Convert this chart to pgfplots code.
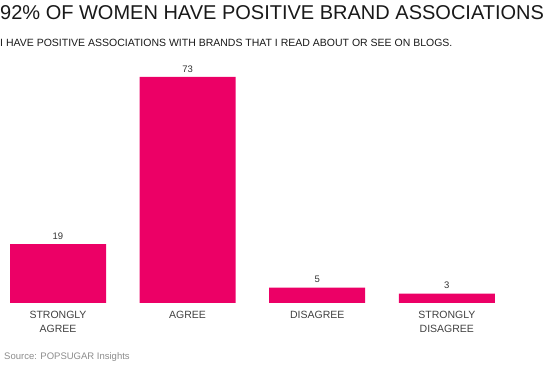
\documentclass[border=0pt]{standalone}
\usepackage{pgfplots}
\pgfplotsset{compat=1.18}
\usepackage{fontspec}
\setmainfont{Liberation Sans}
\definecolor{barpink}{RGB}{236,0,102}
\begin{document}
\begin{tikzpicture}[x=1pt,y=1pt]
\path[use as bounding box] (0,0) rectangle (550,367);
\node[anchor=base west, inner sep=0, font=\fontsize{20}{24}\selectfont, text=black!90] at (0,347.5) {92\% OF WOMEN HAVE POSITIVE BRAND ASSOCIATIONS};
\node[anchor=base west, inner sep=0, font=\fontsize{10.5}{12}\selectfont, text=black!90] at (0,320) {I HAVE POSITIVE ASSOCIATIONS WITH BRANDS THAT I READ ABOUT OR SEE ON BLOGS.};
\node[anchor=base west, inner sep=0, font=\fontsize{9.5}{12}\selectfont, text=black!45] at (4,7.3) {Source: POPSUGAR Insights};
\begin{axis}[
  at={(0pt,64pt)}, anchor=south west,
  scale only axis, width=550pt, height=247.7pt,
  xmin=-0.4475, xmax=3.796, ymin=0, ymax=80,
  axis line style={draw=none},
  ytick=\empty,
  xtick=data,
  xticklabels={{STRONGLY\\AGREE},AGREE,DISAGREE,{STRONGLY\\DISAGREE}},
  major tick length=0pt,
  xticklabel style={align=center, font=\fontsize{10.5}{14.5}\selectfont, text=black!75, inner sep=0pt, anchor=north, yshift=-7.5pt},
  /pgf/number format/assume math mode=true,
  ybar, bar width=96pt,
  nodes near coords,
  nodes near coords style={font=\fontsize{9.5}{11}\selectfont, text=black!80, inner sep=0pt, anchor=south, yshift=4.5pt},
  clip=false,
]
\addplot[fill=barpink, draw=none] coordinates {(0,19) (1,73) (2,5) (3,3)};
\end{axis}
\end{tikzpicture}
\end{document}
